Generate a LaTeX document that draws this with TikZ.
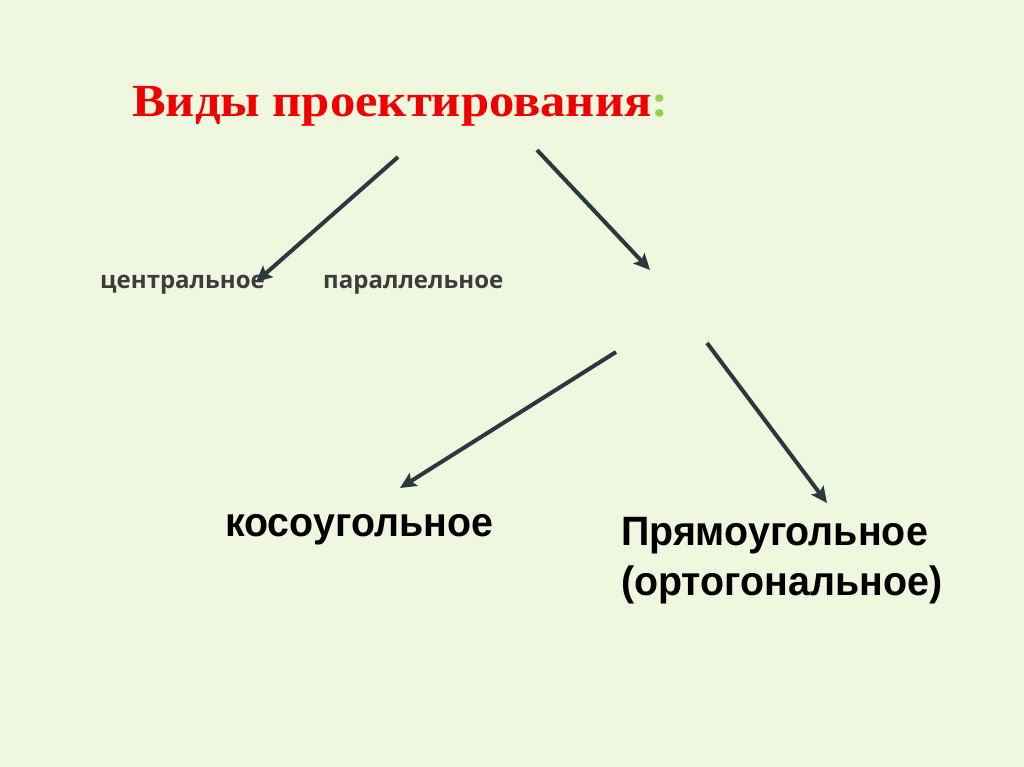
\documentclass[tikz,border=0pt]{standalone}
\usepackage{fontspec}
\setmainfont{Liberation Serif}
\newfontfamily\titleserif[FakeStretch=1.1]{Liberation Serif}
\newfontfamily\boldsans[FakeStretch=0.96]{Liberation Sans}
\newfontfamily\smallsans{Open Sans}
\usetikzlibrary{arrows.meta}
\definecolor{slidebg}{HTML}{EFF7DF}
\definecolor{titlered}{HTML}{F00000}
\definecolor{colongreen}{HTML}{92D050}
\definecolor{arrowgray}{HTML}{2A3840}
\definecolor{labelgray}{HTML}{3C3C3C}
\begin{document}
\begin{tikzpicture}[x=1pt,y=-1pt,
    arr/.style={-{Stealth[length=16pt,width=15pt,inset=3pt]}, line width=4pt, color=arrowgray},
    small/.style={anchor=base west, inner sep=0pt, text=labelgray, font=\smallsans\bfseries\fontsize{24}{28}\selectfont},
    big/.style={anchor=base west, inner sep=0pt, text=black, font=\boldsans\bfseries\fontsize{41}{50}\selectfont, align=left}]
                        \fill[slidebg] (0,0) rectangle (1024,767);
                        \useasboundingbox (0,0) rectangle (1024,767);

                        \node [anchor=base west, inner sep=0pt, font=\titleserif\bfseries\fontsize{46}{50}\selectfont] (title) at (132,117) {\textcolor{titlered}{Виды проектирования}\textcolor{colongreen}{:}};

                        \node [small] (central) at (100,288) {центральное};
                        \node [small] (parallel) at (323,288) {параллельное};

                        \node [big] (oblique) at (225,536) {косоугольное};
                        \node [big] (ortho) at (621,595) {Прямоугольное\\(ортогональное)};

                        \coordinate (T1) at (398,157);
                        \coordinate (T2) at (537,150);
                        \coordinate (P1) at (256,282);
                        \coordinate (P2) at (650,270);
                        \coordinate (S1) at (616,352);
                        \coordinate (S2) at (707,343);
                        \coordinate (O1) at (400,488);
                        \coordinate (O2) at (827,503);

                        \draw[arr] (T1) -- (P1);
                        \draw[arr] (T2) -- (P2);
                        \draw[arr] (S1) -- (O1);
                        \draw[arr] (S2) -- (O2);
                      \end{tikzpicture}
\end{document}
